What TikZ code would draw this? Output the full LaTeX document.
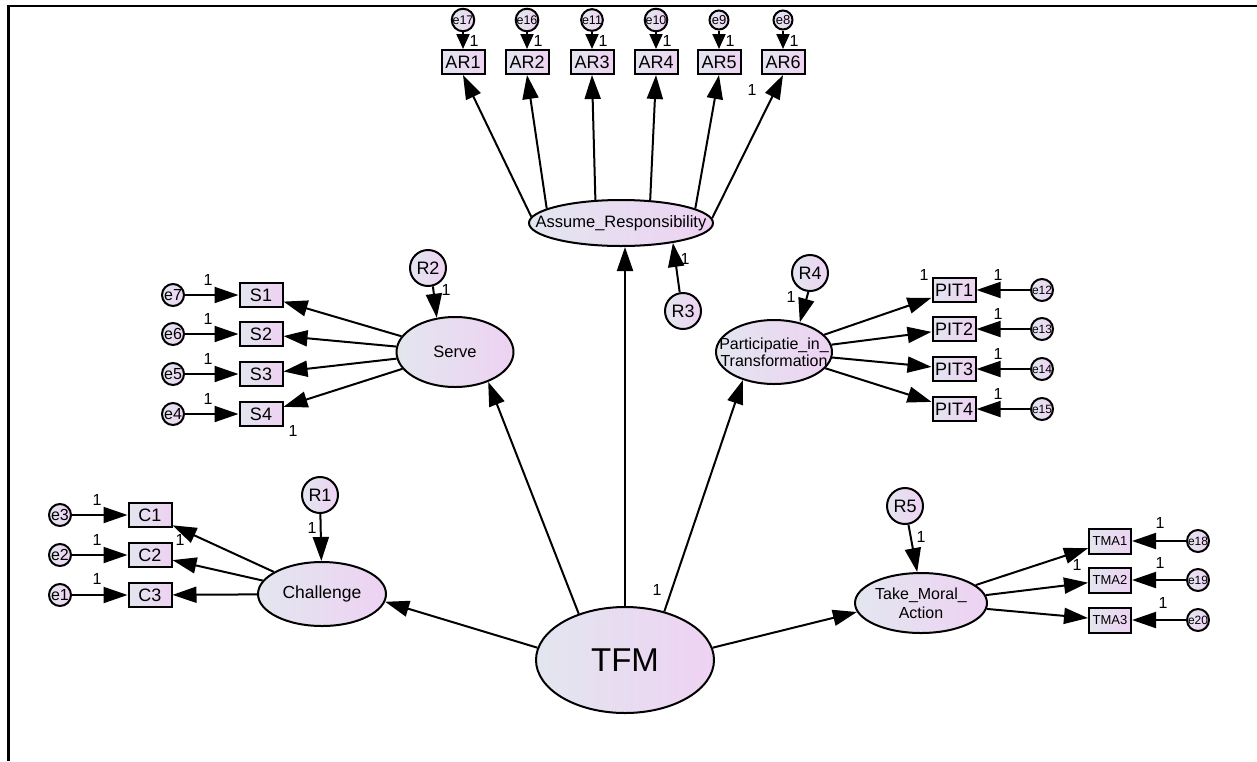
\documentclass[tikz,border=0pt]{standalone}
\usepackage{fontspec}
\setmainfont{Liberation Sans}
\usetikzlibrary{arrows.meta,shapes.geometric}
\definecolor{gradL}{RGB}{226,230,239}
\definecolor{gradR}{RGB}{238,210,242}
\newcommand{\myfs}[1]{\fontsize{#1}{#1}\selectfont}
\tikzset{
  filled/.style={draw=black, line width=2pt, left color=gradL, right color=gradR, inner sep=0pt},
  latent/.style={filled, ellipse},
  obsv/.style={filled, rectangle, minimum width=43pt, minimum height=24pt, font=\myfs{18}},
  tmabox/.style={filled, rectangle, minimum width=42pt, minimum height=25pt, font=\myfs{13}},
  errc/.style={filled, circle, minimum size=22pt},
  errs/.style={filled, circle, minimum size=19pt},
  resc/.style={filled, circle, minimum size=36pt, font=\myfs{18}},
  arr/.style={line width=2pt, -{Triangle[length=24pt,width=16pt]}},
  arrs/.style={line width=2pt, -{Triangle[length=15pt,width=13pt]}},
  one/.style={font=\myfs{16}, inner sep=0pt},
}
\begin{document}
\begin{tikzpicture}[x=1pt,y=-1pt]
\useasboundingbox (0,0) rectangle (1257,761);
\draw[line width=2.5pt] (8.5,761) -- (8.5,6) -- (1257,6);

% ---------- Assume_Responsibility ----------
\node[latent, minimum width=184pt, minimum height=46pt,
      label={[font=\myfs{16.5}]center:Assume\_Responsibility}] (AR) at (621,223) {};
\node[errs, font=\myfs{12.5}] (e17) at (463,20) {e17};
\node[errs, font=\myfs{12.5}] (e16) at (527,20) {e16};
\node[errs, font=\myfs{12.5}] (e11) at (592,20) {e11};
\node[errs, font=\myfs{12.5}] (e10) at (656,20) {e10};
\node[errs, font=\myfs{13}] (e9) at (719,20) {e9};
\node[errs, font=\myfs{13}] (e8) at (783,20) {e8};
\node[obsv] (AR1) at (463,62) {AR1};
\node[obsv] (AR2) at (527,62) {AR2};
\node[obsv] (AR3) at (592,62) {AR3};
\node[obsv] (AR4) at (656,62) {AR4};
\node[obsv] (AR5) at (719,62) {AR5};
\node[obsv] (AR6) at (783,62) {AR6};
\draw[arrs] (e17) -- (AR1);
\draw[arrs] (e16) -- (AR2);
\draw[arrs] (e11) -- (AR3);
\draw[arrs] (e10) -- (AR4);
\draw[arrs] (e9) -- (AR5);
\draw[arrs] (e8) -- (AR6);
\node[one] (l17) at (474,41) {1};
\node[one] (l16) at (538,41) {1};
\node[one] (l11) at (603,41) {1};
\node[one] (l10) at (667,41) {1};
\node[one] (l9) at (730,41) {1};
\node[one] (l8) at (794,41) {1};
\draw[arr] (AR.176) -- (AR1.south);
\draw[arr] (AR.169) -- (AR2.south);
\draw[arr] (AR.138) -- (AR3.south);
\draw[arr] (AR.38) -- (AR4.south);
\draw[arr] (AR.11) -- (AR5.south);
\draw[arr] (AR.3) -- (AR6.south);
\node[one] (lAR6) at (752,90) {1};
\node[resc] (R3) at (683,311) {R3};
\draw[arr] (R3.100) -- (AR.-21);
\node[one] (lR3) at (685,259) {1};

% ---------- TFM ----------
\node[latent, minimum width=178pt, minimum height=106pt,
      label={[font=\myfs{33}]center:TFM}] (TFM) at (625,660) {};
\draw[arr] (TFM.north) -- (TFM.north |- AR.south);

% ---------- Serve ----------
\node[latent, minimum width=117pt, minimum height=70pt,
      label={[font=\myfs{16.5}]center:Serve}] (Serve) at (455,352) {};
\node[obsv] (S1) at (261,295) {S1};
\node[obsv] (S2) at (261,334) {S2};
\node[obsv] (S3) at (261,374) {S3};
\node[obsv] (S4) at (261,414) {S4};
\node[errc, font=\myfs{16}] (e7) at (173,295) {e7};
\node[errc, font=\myfs{16}] (e6) at (173,334) {e6};
\node[errc, font=\myfs{16}] (e5) at (173,374) {e5};
\node[errc, font=\myfs{16}] (e4) at (173,414) {e4};
\draw[arr] (e7) -- (S1);
\draw[arr] (e6) -- (S2);
\draw[arr] (e5) -- (S3);
\draw[arr] (e4) -- (S4);
\node[one] (l7) at (208,280) {1};
\node[one] (l6) at (208,319) {1};
\node[one] (l5) at (208,359) {1};
\node[one] (l4) at (208,399) {1};
\draw[arr] (Serve) -- (S1);
\draw[arr] (Serve) -- (S2);
\draw[arr] (Serve) -- (S3);
\draw[arr] (Serve) -- (S4);
\node[one] (lS4) at (293,431) {1};
\node[resc] (R2) at (428,268) {R2};
\draw[arr] (R2.-75) -- (Serve.118);
\node[one] (lR2) at (446,290) {1};
\draw[arr] (TFM.135) -- (Serve.-42);

% ---------- Participatie_in_Transformation ----------
\node[latent, minimum width=116pt, minimum height=64pt,
      label={[font=\fontsize{16}{17}\selectfont, align=center]center:{Participatie\_in\_\\Transformation}}] (PIT) at (774,352) {};
\node[obsv] (PIT1) at (954,290) {PIT1};
\node[obsv] (PIT2) at (954,329) {PIT2};
\node[obsv] (PIT3) at (954,369) {PIT3};
\node[obsv] (PIT4) at (954,409) {PIT4};
\node[errc, font=\myfs{12}] (e12) at (1042,290) {e12};
\node[errc, font=\myfs{12}] (e13) at (1042,329) {e13};
\node[errc, font=\myfs{12}] (e14) at (1042,369) {e14};
\node[errc, font=\myfs{12}] (e15) at (1042,409) {e15};
\draw[arr] (e12) -- (PIT1);
\draw[arr] (e13) -- (PIT2);
\draw[arr] (e14) -- (PIT3);
\draw[arr] (e15) -- (PIT4);
\node[one] (l12) at (998,275) {1};
\node[one] (l13) at (998,314) {1};
\node[one] (l14) at (998,354) {1};
\node[one] (l15) at (998,394) {1};
\draw[arr] (PIT) -- (PIT1);
\draw[arr] (PIT) -- (PIT2);
\draw[arr] (PIT) -- (PIT3);
\draw[arr] (PIT) -- (PIT4);
\node[one] (lPIT1) at (924,275) {1};
\node[resc] (R4) at (810,273) {R4};
\draw[arr] (R4.-95) -- (PIT.49);
\node[one] (lR4) at (791,297) {1};
\draw[arr] (TFM.51) -- (PIT.222);
\node[one] (lTFM) at (657,590) {1};

% ---------- Challenge ----------
\node[latent, minimum width=128pt, minimum height=64pt,
      label={[font=\myfs{17.5}]center:Challenge}] (Ch) at (322,594) {};
\node[obsv] (C1) at (150,515) {C1};
\node[obsv] (C2) at (150,555) {C2};
\node[obsv] (C3) at (150,595) {C3};
\node[errc, font=\myfs{16}] (e3) at (60,515) {e3};
\node[errc, font=\myfs{16}] (e2) at (60,555) {e2};
\node[errc, font=\myfs{16}] (e1) at (60,595) {e1};
\draw[arr] (e3) -- (C1);
\draw[arr] (e2) -- (C2);
\draw[arr] (e1) -- (C3);
\node[one] (l3) at (97,500) {1};
\node[one] (l2) at (97,540) {1};
\node[one] (l1) at (97,579) {1};
\draw[arr] (Ch) -- (C1);
\draw[arr] (Ch) -- (C2);
\draw[arr] (Ch) -- (C3);
\node[one] (lC2) at (180,540) {1};
\node[resc] (R1) at (320,495) {R1};
\draw[arr] (R1) -- (Ch);
\node[one] (lR1) at (312,528) {1};
\draw[arr] (TFM.172) -- (Ch.-7);

% ---------- Take_Moral_Action ----------
\node[latent, minimum width=132pt, minimum height=60pt,
      label={[font=\fontsize{16}{19}\selectfont, align=center]center:{Take\_Moral\_\\Action}}] (TMA) at (921,603) {};
\node[tmabox] (TMA1) at (1110,541) {TMA1};
\node[tmabox] (TMA2) at (1110,580) {TMA2};
\node[tmabox] (TMA3) at (1110,620) {TMA3};
\node[errc, font=\myfs{12}] (e18) at (1198,541) {e18};
\node[errc, font=\myfs{12}] (e19) at (1198,580) {e19};
\node[errc, font=\myfs{12}] (e20) at (1198,620) {e20};
\draw[arr] (e18) -- (TMA1);
\draw[arr] (e19) -- (TMA2);
\draw[arr] (e20) -- (TMA3);
\node[one] (l18) at (1160,523) {1};
\node[one] (l19) at (1160,563) {1};
\node[one] (l20) at (1163,603) {1};
\draw[arr] (TMA) -- (TMA1);
\draw[arr] (TMA) -- (TMA2);
\draw[arr] (TMA) -- (TMA3);
\node[one] (lTMA2) at (1077,565) {1};
\node[resc] (R5) at (905,506) {R5};
\draw[arr] (R5) -- (TMA.97);
\node[one] (lR5) at (921,537) {1};
\draw[arr] (TFM.8) -- (TMA.188);
\end{tikzpicture}
\end{document}
